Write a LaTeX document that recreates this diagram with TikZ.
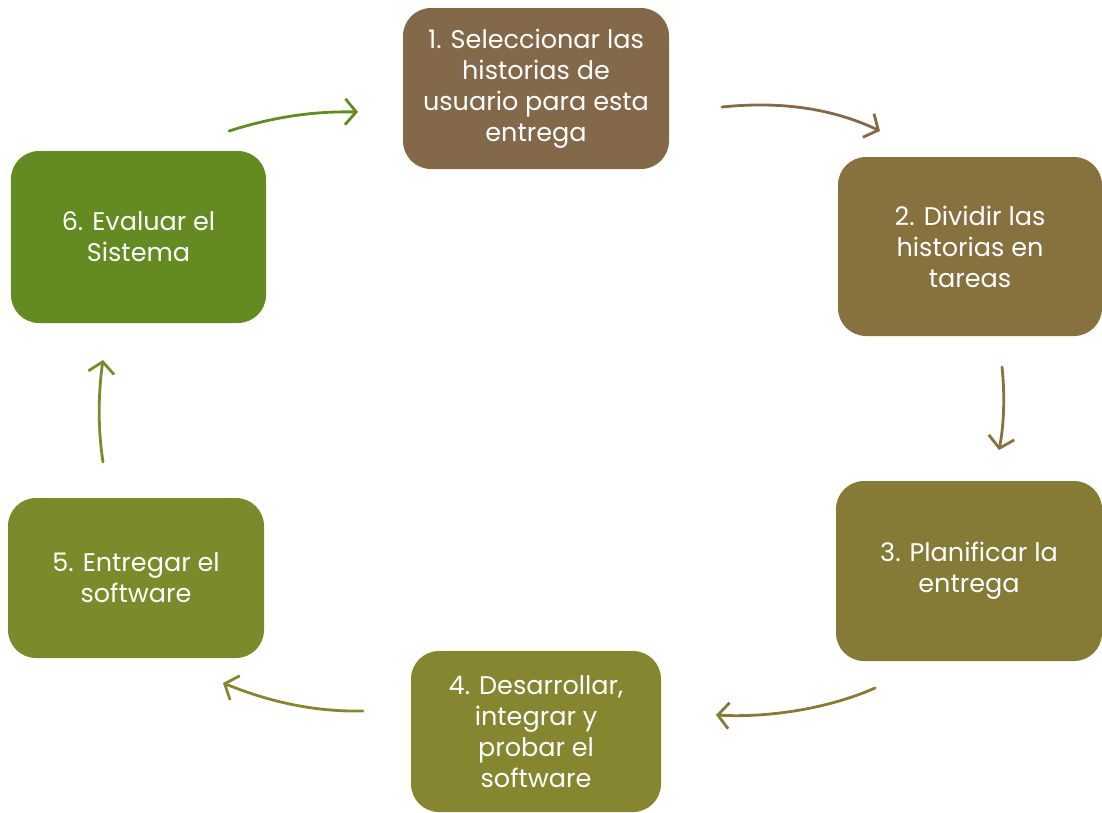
\documentclass[tikz,border=0pt]{standalone}
\usepackage{fontspec}
\setmainfont{Poppins}
\usetikzlibrary{arrows.meta}
\definecolor{cA}{HTML}{84684A}
\definecolor{cB}{HTML}{86713F}
\definecolor{cC}{HTML}{857B36}
\definecolor{cD}{HTML}{868631}
\definecolor{cE}{HTML}{7B8A2A}
\definecolor{cF}{HTML}{648A22}
\tikzset{
  stage/.style={fill=#1, draw=none, rounded corners=28pt, inner sep=0pt,
    text=white, align=center, font=\fontsize{25.5}{31}\selectfont},
  flow/.style={draw=#1, line width=2.8pt, line cap=round,
    -{Straight Barb[length=11pt, width=26pt, line width=2.8pt]}}
}
\begin{document}
\begin{tikzpicture}[x=1pt, y=-1pt]
\useasboundingbox (0,0) rectangle (1102,812);
% process stages
\node[stage=cA, minimum width=266pt, minimum height=161pt] (s1) at (536,88.5)
  {1. Seleccionar las\\historias de\\usuario para esta\\entrega};
\node[stage=cB, minimum width=264pt, minimum height=179pt] (s2) at (970,246.5)
  {2. Dividir las\\historias en\\tareas};
\node[stage=cC, minimum width=266pt, minimum height=180pt] (s3) at (969,571)
  {3. Planificar la\\entrega};
\node[stage=cD, minimum width=250pt, minimum height=161pt] (s4) at (536,731.5)
  {4. Desarrollar,\\integrar y\\probar el\\software};
\node[stage=cE, minimum width=256pt, minimum height=160pt] (s5) at (136,578)
  {5. Entregar el\\software};
\node[stage=cF, minimum width=255pt, minimum height=172pt] (s6) at (138.5,237)
  {6. Evaluar el\\Sistema};
% arrow end points between the stages
\coordinate (a1s) at (722,107);  \coordinate (a1e) at (880,131);
\coordinate (a2s) at (1002,367); \coordinate (a2e) at (999,450);
\coordinate (a3s) at (875,688);  \coordinate (a3e) at (716,715);
\coordinate (a4s) at (363,711);  \coordinate (a4e) at (223,683);
\coordinate (a5s) at (103,462);  \coordinate (a5e) at (103,360);
\coordinate (a6s) at (229,131);  \coordinate (a6e) at (358,112);
% cycle arrows
\draw[flow=cA] (a1s) .. controls (790,100) and (840,112) .. (a1e);
\draw[flow=cB] (a2s) .. controls (1005,395) and (1004,425) .. (a2e);
\draw[flow=cC] (a3s) .. controls (830,708) and (770,718) .. (a3e);
\draw[flow=cD] (a4s) .. controls (310,712) and (265,700) .. (a4e);
\draw[flow=cE] (a5s) .. controls (98,430) and (98,395) .. (a5e);
\draw[flow=cF] (a6s) .. controls (270,118) and (310,111) .. (a6e);
\end{tikzpicture}
\end{document}
